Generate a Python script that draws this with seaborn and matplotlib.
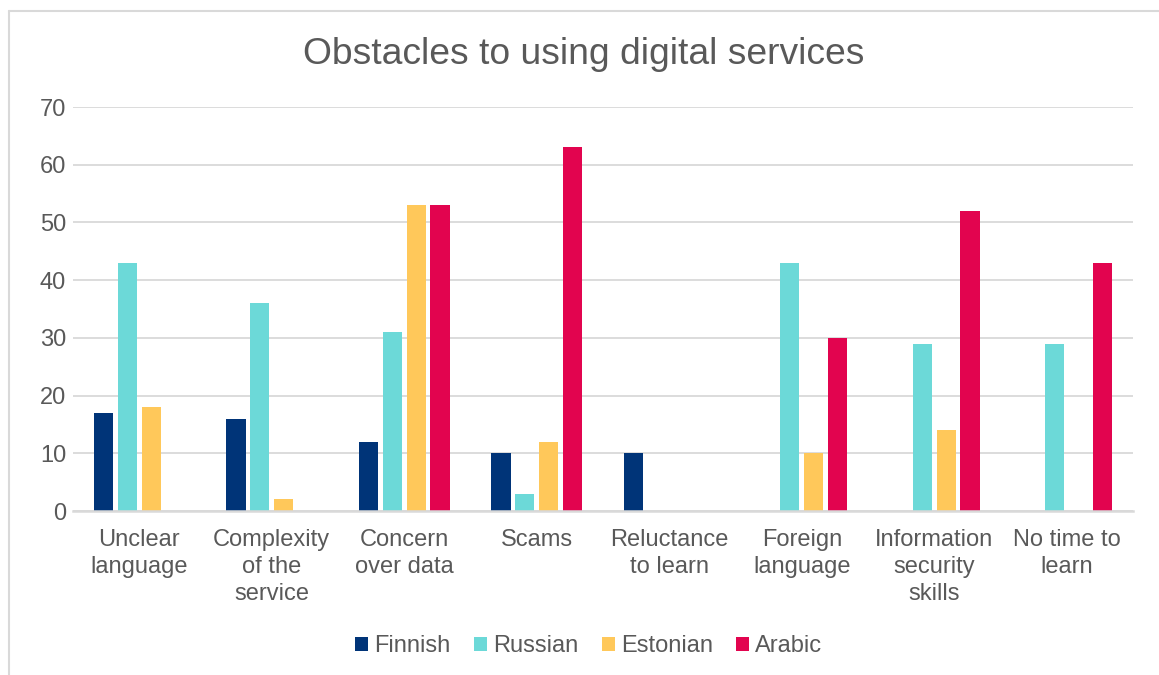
import matplotlib
matplotlib.use("Agg")
import matplotlib.pyplot as plt
from matplotlib.lines import Line2D
from matplotlib.patches import Patch
import seaborn as sns
import pandas as pd

categories = [
    "Unclear\nlanguage",
    "Complexity\nof the\nservice",
    "Concern\nover data",
    "Scams",
    "Reluctance\nto learn",
    "Foreign\nlanguage",
    "Information\nsecurity\nskills",
    "No time to\nlearn",
]
languages = ["Finnish", "Russian", "Estonian", "Arabic"]
finnish = [17, 16, 12, 10, 10, 0, 0, 0]
russian = [43, 36, 31, 3, 0, 43, 29, 29]
estonian = [18, 2, 53, 12, 0, 10, 14, 0]
arabic = [0, 0, 53, 63, 0, 30, 52, 43]
colors = ["#003478", "#6CD9D8", "#FFC85A", "#E2044F"]

series = dict(zip(languages, [finnish, russian, estonian, arabic]))
df = pd.DataFrame(
    [(c, lang, v) for lang, vals in series.items() for c, v in zip(categories, vals)],
    columns=["category", "language", "value"],
)

sns.set_theme(style="white")
plt.rcParams["font.family"] = ["Liberation Sans", "DejaVu Sans"]
text_color = "#595959"
grid_color = "#D9D9D9"

fig = plt.figure(figsize=(11.59, 6.75), dpi=100)
ax = fig.add_axes([73 / 1159, 1 - 511 / 675, (1133 - 73) / 1159, (511 - 107) / 675])

sns.barplot(
    data=df, x="category", y="value", hue="language",
    hue_order=languages, palette=colors, order=categories,
    width=0.72, gap=0.2, linewidth=0, saturation=1, legend=False, ax=ax,
)

ax.set_xlim(-0.5, len(categories) - 0.5)
ax.set_ylim(0, 70)
ax.set_yticks(range(0, 71, 10))
ax.yaxis.grid(True, color=grid_color, linewidth=1.3)
ax.set_axisbelow(True)
for side in ["left", "right", "top"]:
    ax.spines[side].set_visible(False)
ax.spines["bottom"].set_color(grid_color)
ax.spines["bottom"].set_linewidth(1.8)
ax.set_xlabel("")
ax.set_ylabel("")
ax.tick_params(axis="y", length=0, pad=5, labelsize=17, labelcolor=text_color)
ax.tick_params(axis="x", length=0, pad=13, labelsize=17, labelcolor=text_color)
for lbl in ax.get_xticklabels():
    lbl.set_linespacing(1.3)

fig.text(584 / 1159, 1 - 54 / 675, "Obstacles to using digital services",
         ha="center", va="center", fontsize=26.8, color=text_color)

handles = [Patch(facecolor=c, edgecolor="none", label=l) for c, l in zip(colors, languages)]
fig.legend(
    handles=handles, loc="center", bbox_to_anchor=(589 / 1159, 1 - 646 / 675),
    ncol=4, frameon=False, fontsize=17, labelcolor=text_color,
    handlelength=0.55, handleheight=0.55, handletextpad=0.25, columnspacing=1.0,
)

# chart-area frame
fig.add_artist(Line2D([8.5 / 1159, 8.5 / 1159], [0, 1 - 10.5 / 675],
                      transform=fig.transFigure, color=grid_color, linewidth=1.5))
fig.add_artist(Line2D([8.5 / 1159, 1], [1 - 10.5 / 675, 1 - 10.5 / 675],
                      transform=fig.transFigure, color=grid_color, linewidth=1.5))

fig.savefig("out.png", dpi=100, facecolor="white")
